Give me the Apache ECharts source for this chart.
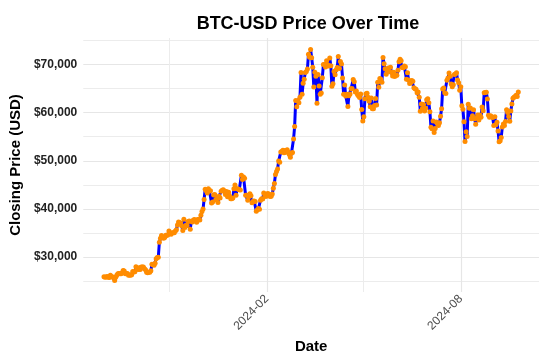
<!DOCTYPE html>
<html>
<head>
<meta charset="utf-8">
<script src="https://cdn.jsdelivr.net/npm/echarts@6/dist/echarts.min.js"></script>
<style>html,body{margin:0;padding:0;background:#fff}#chart{width:550px;height:363px}</style>
</head>
<body>
<div id="chart"></div>
<script>
// Daily BTC-USD closing prices, starting 2023-09-01
const startDate = '2023-09-01';
const close2023Sep = [25940,25800,25870,25970,25830,25780,26250,25910,25900,25840,25160,25840,26230,26540,26610,26570,26530,26760,27210,27130,26570,26580,26580,26260,26300,26220,26350,27020,26910,26970];
const close2023Oct = [27980,27530,27430,27800,27410,27950,27970,27940,27600,27390,26880,26760,26860,26860,27160,28520,28410,28330,28720,29680,29920,30000,33090,33900,34500,34160,33910,34090,34540,34500,34670];
const close2023Nov = [35440,34940,34730,35080,35050,35040,35420,35660,36690,37310,37130,37070,36500,35540,37880,36150,36600,36590,37390,37480,35810,37430,37290,37720,37800,37480,37250,37830,37860,37710];
const close2023Dec = [38690,39470,39980,41980,44080,43770,43290,44170,43730,43790,41240,41450,42890,43020,41930,42240,41360,42620,42270,43650,43870,43990,43740,43020,43610,42520,43440,42630,42100,42140,42280];
const close2024Jan = [44180,44960,42850,44180,44160,43970,43930,46970,46110,46630,46370,42850,42840,41800,42510,43150,42740,41260,41620,41670,41550,39510,39850,40080,39930,41820,42120,42040,43300,42950,42580];
const close2024Feb = [43080,43190,43000,42580,42660,43080,44320,45300,47150,47770,48290,49960,49700,51800,51940,52160,51660,52120,51780,52280,51840,51300,50730,51570,51730,54520,57090,62500,61200];
const close2024Mar = [62440,62030,63170,68330,63800,66110,66930,68300,68500,69020,72120,71480,73080,71400,69400,65320,68390,67550,61910,67910,65490,63780,64060,67230,69960,69990,69460,70780,69900,69650,71330];
const close2024Apr = [69700,65450,65980,68510,67840,68900,69360,71630,69140,70590,70060,67200,63820,65740,63420,63810,61280,63510,63840,64990,64930,66840,66410,64280,64500,63760,63420,63110,63840,60640];
const close2024May = [58250,59120,62890,63890,64030,63160,62330,61190,63050,60790,60790,61450,62900,61550,66270,65230,67050,66940,66280,71450,70140,69120,67930,68530,69270,68510,69390,68300,67600,68360,67490];
const close2024Jun = [67710,67750,68800,70570,71080,70760,69340,69310,69650,69510,66910,68240,66760,66010,66190,66640,66490,65140,64960,64830,64100,64250,63180,60280,61800,60860,61670,60320,60890,62680];
const close2024Jul = [62850,62030,60170,56980,56660,58230,55860,56710,58050,57720,57340,57900,59230,60790,64870,65100,64120,63970,66710,67160,68190,67550,65930,65370,65780,67910,68000,68250,66780,66200,64620];
const close2024Aug = [65360,61420,60680,58120,53990,56030,55030,61710,60880,60940,58710,59350,60610,58740,57560,58870,59480,58480,59490,59010,61170,60380,64090,64180,64220,62830,59420,59030,59360,59120,58970];
const close2024Sep = [57330,59110,57480,57970,56160,53950,54140,54840,57020,57650,57340,58130,60570,60010,59180,58210,60310,61760,62950,63200,63350,63580,63340,64260];

// Axis breaks
const yTickValues = [30000, 40000, 50000, 60000, 70000];
const yMinorValues = [25000, 35000, 45000, 55000, 65000, 75000];
const xMajorDates = ['2024-02-01', '2024-08-01'];
const xMinorDates = ['2023-11-01', '2024-05-01'];

const allCloses = [].concat(close2023Sep, close2023Oct, close2023Nov, close2023Dec, close2024Jan,
  close2024Feb, close2024Mar, close2024Apr, close2024May, close2024Jun, close2024Jul, close2024Aug, close2024Sep);

const DAY = 86400000;
const t0 = Date.parse(startDate + 'T00:00:00Z');
const seriesData = allCloses.map((v, i) => [t0 + i * DAY, v]);

const ts = d => Date.parse(d + 'T00:00:00Z');
const xFirst = seriesData[0][0], xLast = seriesData[seriesData.length - 1][0];
const xPad = (xLast - xFirst) * 0.05;
const yLo = Math.min(...allCloses), yHi = Math.max(...allCloses);
const yPad = (yHi - yLo) * 0.05;

const fmtMonth = v => {
  const d = new Date(v);
  return d.getUTCFullYear() + '-' + String(d.getUTCMonth() + 1).padStart(2, '0');
};

const chart = echarts.init(document.getElementById('chart'), null, { renderer: 'canvas' });
const font = 'Liberation Sans, Arial, Helvetica, sans-serif';
const gridMajor = { show: true, lineStyle: { color: '#e6e6e6', width: 1.2 } };
const gridMinor = { show: true, lineStyle: { color: '#ececec', width: 1 } };

chart.setOption({
  animation: false,
  backgroundColor: '#ffffff',
  title: {
    text: 'BTC-USD Price Over Time',
    left: 303, top: 10, textAlign: 'center',
    textStyle: { fontFamily: font, fontWeight: 'bold', fontSize: 18, color: '#000' }
  },
  grid: { left: 76, right: 11, top: 38, bottom: 71 },
  xAxis: [{
    type: 'value',
    min: xFirst - xPad, max: xLast + xPad,
    name: 'Date', nameLocation: 'middle', nameGap: 46,
    nameTextStyle: { fontFamily: font, fontWeight: 'bold', fontSize: 15, color: '#000' },
    axisLine: { show: false },
    axisTick: { show: false, customValues: xMajorDates.map(ts) },
    axisLabel: {
      customValues: xMajorDates.map(ts), rotate: 45, margin: 5,
      formatter: v => fmtMonth(v),
      fontFamily: font, fontSize: 12, color: '#4d4d4d'
    },
    splitLine: gridMajor
  }, {
    type: 'value',
    min: xFirst - xPad, max: xLast + xPad,
    axisLine: { show: false },
    axisTick: { show: false, customValues: xMinorDates.map(ts) },
    axisLabel: { show: false },
    splitLine: gridMinor
  }],
  yAxis: [{
    type: 'value',
    min: yLo - yPad, max: yHi + yPad,
    name: 'Closing Price (USD)', nameLocation: 'middle', nameGap: 53,
    nameTextStyle: { fontFamily: font, fontWeight: 'bold', fontSize: 15, color: '#000' },
    axisLine: { show: false },
    axisTick: { show: false, customValues: yTickValues },
    axisLabel: {
      customValues: yTickValues, margin: 6,
      formatter: v => '$' + Math.round(v).toLocaleString('en-US'),
      fontFamily: font, fontSize: 12, fontWeight: 'bold', color: '#222'
    },
    splitLine: gridMajor
  }, {
    type: 'value',
    min: yLo - yPad, max: yHi + yPad,
    axisLine: { show: false },
    axisTick: { show: false, customValues: yMinorValues },
    axisLabel: { show: false },
    splitLine: gridMinor
  }],
  series: [{
    type: 'line',
    xAxisIndex: 0, yAxisIndex: 0,
    data: seriesData,
    showSymbol: true, showAllSymbol: true,
    symbol: 'circle', symbolSize: 5,
    sampling: null,
    lineStyle: { color: '#0000ff', width: 3 },
    itemStyle: { color: '#ff8c00', borderWidth: 0 },
    z: 3
  }]
});
</script>
</body>
</html>
